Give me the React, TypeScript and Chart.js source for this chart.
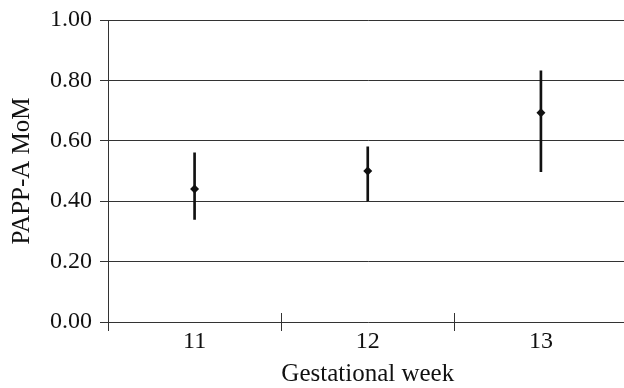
import React, { useEffect, useRef } from "react";
import { Chart, registerables } from "chart.js";

Chart.register(...registerables);

const weeks = ["11", "12", "13"];
const meanMoM = [0.44, 0.5, 0.693];
const lowerMoM = [0.34, 0.4, 0.498];
const upperMoM = [0.56, 0.58, 0.832];
const yTicks = [0, 0.2, 0.4, 0.6, 0.8, 1.0];

const FONT = "'Liberation Serif', 'Times New Roman', serif";
const INK = "#111";
const GRID = "#333";

const crossTicks = {
  id: "crossTicks",
  afterDraw(chart: any) {
    const x = chart.scales.x;
    const area = chart.chartArea;
    const ctx = chart.ctx;
    const n = weeks.length;
    const step = x.getPixelForValue(1) - x.getPixelForValue(0);
    ctx.save();
    ctx.strokeStyle = GRID;
    ctx.lineWidth = 1;
    for (let i = 0; i <= n; i++) {
      const px = Math.round(x.getPixelForValue(i) - step / 2) + 0.5;
      ctx.beginPath();
      ctx.moveTo(px, area.bottom - 9);
      ctx.lineTo(px, area.bottom + 9);
      ctx.stroke();
    }
    ctx.restore();
  },
};

export default function App() {
  const ref = useRef<HTMLCanvasElement | null>(null);
  useEffect(() => {
    if (!ref.current) return;
    const chart = new Chart(ref.current, {
      type: "bar",
      data: {
        labels: weeks,
        datasets: [
          {
            type: "line",
            data: meanMoM,
            showLine: false,
            pointStyle: "rectRot",
            pointRadius: 4.5,
            pointBackgroundColor: INK,
            pointBorderColor: INK,
            pointBorderWidth: 0,
            order: 0,
          } as any,
          {
            type: "bar",
            data: weeks.map((_, i) => [lowerMoM[i], upperMoM[i]]),
            backgroundColor: INK,
            borderWidth: 0,
            barThickness: 2,
            order: 1,
          } as any,
        ],
      },
      options: {
        animation: false,
        responsive: false,
        maintainAspectRatio: false,
        layout: { padding: { top: 19, right: 4.5, left: 0, bottom: 0 } },
        plugins: { legend: { display: false }, tooltip: { enabled: false } },
        scales: {
          x: {
            type: "category",
            offset: true,
            grid: { display: false, drawTicks: false },
            border: { display: false },
            ticks: {
              color: INK,
              padding: 5,
              font: { family: FONT, size: 24 },
            },
            title: {
              display: true,
              text: "Gestational week",
              color: INK,
              font: { family: FONT, size: 25, lineHeight: 1 },
              padding: { top: 0, bottom: 1 },
            },
            afterFit(scale: any) {
              scale.height = 66;
            },
          },
          y: {
            min: 0,
            max: 1,
            afterBuildTicks(scale: any) {
              scale.ticks = yTicks.map((v) => ({ value: v }));
            },
            grid: { color: GRID, lineWidth: 1, tickLength: 8, drawTicks: true },
            border: { display: true, color: GRID, width: 1 },
            ticks: {
              color: INK,
              padding: 8,
              font: { family: FONT, size: 24, lineHeight: 1 },
              callback: (v: any) => Number(v).toFixed(2),
            },
            title: {
              display: true,
              text: "PAPP-A MoM",
              color: INK,
              font: { family: FONT, size: 25, lineHeight: 1 },
              padding: { top: 10, bottom: 0 },
            },
            afterFit(scale: any) {
              scale.width = 108;
            },
          },
        },
      },
      plugins: [crossTicks],
    });
    return () => chart.destroy();
  }, []);
  return (
    <div style={{ position: "fixed", left: 0, top: 0, width: 624, height: 388, overflow: "hidden", background: "#fff" }}>
      <canvas ref={ref} width={632} height={388} style={{ display: "block", width: 632, height: 388 }} />
    </div>
  );
}
